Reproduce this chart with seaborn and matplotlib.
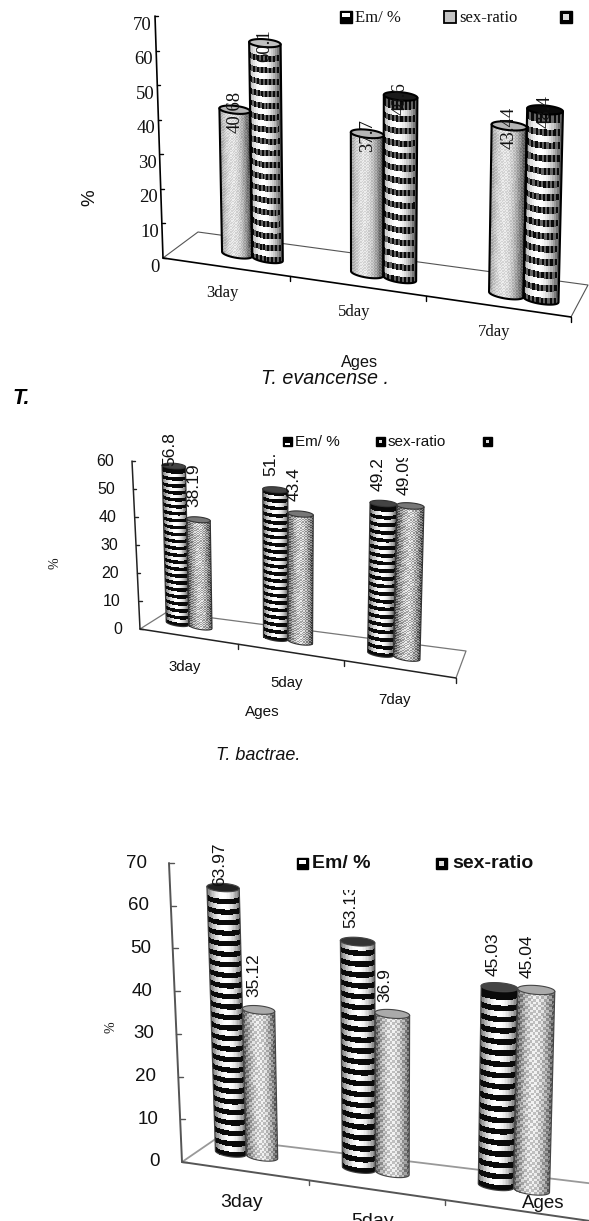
import numpy as np
import pandas as pd
import matplotlib
matplotlib.use('Agg')
import matplotlib.pyplot as plt
import seaborn as sns
from matplotlib.patches import Rectangle
from matplotlib.transforms import Affine2D, Bbox, Transform

W, H = 589, 1221

ages = ['3day', '5day', '7day']
series_names = ['Em/ %', 'sex-ratio']

evancense_em = [40.68, 37.7, 43.44]
evancense_sex = [60.1, 48.6, 48.4]
evancense_labels = ['40.68', '37.7', '43.44', '60.1', '48.6', '48.4']
evancense_ticks = [0, 10, 20, 30, 40, 50, 60, 70]

bactrae_em = [56.8, 51.0, 49.2]
bactrae_sex = [38.19, 43.4, 49.09]
bactrae_labels = ['56.8', '51.', '49.2', '38.19', '43.4', '49.09']
bactrae_ticks = [0, 10, 20, 30, 40, 50, 60]

third_em = [63.97, 53.13, 45.03]
third_sex = [35.12, 36.9, 45.04]
third_labels = ['63.97', '53.13', '45.03', '35.12', '36.9', '45.04']
third_ticks = [0, 10, 20, 30, 40, 50, 60, 70]

sns.set_style('white')
plt.rcParams['font.family'] = ['Liberation Sans', 'DejaVu Sans']

fig = plt.figure(figsize=(W / 100, H / 100), dpi=100, facecolor='white')
# everything on the page is laid out in image pixels
pix = Affine2D().scale(1 / W, -1 / H).translate(0, 1) + fig.transFigure


def spread(x):
    t = (np.asarray(x, float) + 0.5) / 3
    return 0.9 * t + 0.1 * t * t


class Slanted(Transform):
    # (category, value) -> image pixels, fakes the 3d view of the old chart
    input_dims = 2
    output_dims = 2

    def __init__(self, base_l, base_r, scale, lean):
        super().__init__()
        self.base_l, self.base_r = np.array(base_l, float), np.array(base_r, float)
        self.scale, self.lean = scale, lean

    def transform_non_affine(self, xy):
        xy = np.asarray(xy, float)
        s = spread(xy[:, 0])
        v = xy[:, 1]
        px = self.base_l[0] + s * (self.base_r[0] - self.base_l[0]) + v * (self.lean[0] + s * (self.lean[1] - self.lean[0]))
        py = self.base_l[1] + s * (self.base_r[1] - self.base_l[1]) - v * (self.scale[0] + s * (self.scale[1] - self.scale[0]))
        return np.column_stack([px, py])


def cylinder(ax, bar, kind, top, cfg, tf):
    x0, w, v = bar.get_x(), bar.get_width(), bar.get_height()
    e = cfg['ell']
    ncol = cfg['stripe_cols'] if kind == 'stripes' else cfg['dot_cols']
    u = np.linspace(-1, 1, ncol + 1)
    step = cfg['stripe_step'] if kind == 'stripes' else cfg['dot_step']
    rows = np.append(np.arange(0, v - step / 2, step), v)
    X, Y = np.meshgrid(x0 + w * (u + 1) / 2, rows)
    Y = Y - e * np.sqrt(np.clip(1 - u ** 2, 0, 1))
    mid = (u[:-1] + u[1:]) / 2
    light = np.clip(1 - cfg['dark'] * ((mid + cfg['peak']) / 1.1) ** 2, 0, 1)
    ii, jj = np.meshgrid(np.arange(len(rows) - 1), np.arange(ncol), indexing='ij')
    if kind == 'stripes':
        C = np.where(ii % 2 == 0, 0.04 + cfg['ribs'] * (jj % 2), light[jj])
    else:
        C = cfg['dot_base'] * light[jj] + cfg['dot_amp'] * (2 * ((ii + jj) % 2) - 1)
    bar.set_transform(tf)
    bar.set_facecolor('#999999')
    bar.set_edgecolor('none')
    ax.pcolormesh(X, Y, C, cmap='gray', vmin=0, vmax=1, transform=tf, zorder=3)
    th = np.linspace(0, np.pi, 30)
    sx = np.r_[x0, x0 + w / 2 - w / 2 * np.cos(th), x0 + w]
    sy = np.r_[v, -e * np.sin(th), v]
    ax.plot(sx, sy, color=cfg['edge'], lw=cfg['edge_lw'], transform=tf, zorder=4)
    th = np.linspace(0, 2 * np.pi, 60)
    ax.fill(x0 + w / 2 + w / 2 * np.cos(th), v + e * np.sin(th), facecolor=top,
            edgecolor=cfg['edge'], lw=cfg['edge_lw'], transform=tf, zorder=5)


def legend_box(ax, x, y, size, style):
    if style == 'half':
        ax.add_patch(Rectangle((x, y), size, size, fc='black', ec='black', lw=1, transform=pix, zorder=6))
        ax.add_patch(Rectangle((x + 2, y + 2), size - 4, size * 0.35, fc='white', ec='none', transform=pix, zorder=7))
    elif style == 'low':
        ax.add_patch(Rectangle((x, y), size, size, fc='black', ec='black', lw=1, transform=pix, zorder=6))
        ax.add_patch(Rectangle((x + 2, y + size * 0.68), size - 4, 1.5, fc='white', ec='none', transform=pix, zorder=7))
    elif style == 'dots':
        ax.add_patch(Rectangle((x, y), size, size, fc='#c4c4c4', ec='black', lw=1.3, transform=pix, zorder=6))
    else:
        ax.add_patch(Rectangle((x, y), size, size, fc='black', ec='black', lw=1, transform=pix, zorder=6))
        ax.add_patch(Rectangle((x + size * 0.28, y + size * 0.28), size * 0.44, size * 0.44, fc='#dddddd', ec='none', transform=pix, zorder=7))


def draw_panel(cfg, em, sex, labels, ticks):
    ax = fig.add_axes([0, 0, 1, 1])
    ax.patch.set_visible(False)
    df = pd.DataFrame({'pos': [0, 1, 2] * 2, 'value': em + sex,
                       'series': [series_names[0]] * 3 + [series_names[1]] * 3})
    sns.barplot(data=df, x='pos', y='value', hue='series', hue_order=series_names, native_scale=True,
                width=cfg['width'], errorbar=None, legend=False, ax=ax)
    ax.set_axis_off()
    slant = Slanted(cfg['base_l'], cfg['base_r'], cfg['scale'], cfg['lean'])
    tf = slant + pix

    # floor of the box
    fl, fr, bl, br = [np.array(cfg[k], float) for k in ('fl', 'fr', 'bl', 'br')]
    ax.plot([fl[0], bl[0], br[0], fr[0]], [fl[1], bl[1], br[1], fr[1]], color=cfg['back'],
            lw=cfg['back_lw'], transform=pix, zorder=1)
    ax.plot([fl[0], fr[0]], [fl[1], fr[1]], color=cfg['axis'], lw=cfg['axis_lw'], transform=pix, zorder=2)
    for x in [0.5, 1.5, 2.5]:
        p = fl + spread(x) * (fr - fl)
        ax.plot([p[0], p[0]], [p[1], p[1] + 5], color=cfg['axis'], lw=1, transform=pix, zorder=2)
    for i, age in enumerate(ages):
        p = fl + spread(i) * (fr - fl)
        # the bottom panel runs off the page, its 7day never shows
        if p[1] + cfg['cat_off'][1] > H + 5:
            continue
        ax.text(p[0] + cfg['cat_off'][0], p[1] + cfg['cat_off'][1], age, transform=pix, ha='center', va='center',
                fontsize=cfg['cat_fs'], family=cfg['family'], color='#111111')

    # value axis
    top = np.array(cfg['axis_top'], float)
    ax.plot([fl[0], top[0]], [fl[1], top[1]], color=cfg['axis'], lw=cfg['axis_lw'], transform=pix, zorder=2)
    for tick in ticks:
        p = fl + (top - fl) * tick / ticks[-1]
        ax.plot([p[0], p[0] + cfg['tick_len']], [p[1], p[1]], color=cfg['axis'], lw=1, transform=pix, zorder=2)
        ax.text(p[0] + cfg['tick_off'][0], p[1] + cfg['tick_off'][1], str(tick), transform=pix, ha='right', va='center',
                fontsize=cfg['tick_fs'], family=cfg['family'], color='#111111')

    # bars go hue by hue in ax.patches
    for i, bar in enumerate(list(ax.patches)):
        cylinder(ax, bar, cfg['kinds'][i // 3], cfg['tops'][i], cfg, tf)
        q = slant.transform([[bar.get_x() + bar.get_width() / 2, bar.get_height()]])[0]
        dx, dy = cfg['label_off'][i]
        txt = ax.text(q[0] + dx, q[1] + dy, labels[i], transform=pix, rotation=90, ha='center',
                      va=cfg['label_va'], fontsize=cfg['label_fs'], family=cfg['family'],
                      color='#111111', zorder=8)
        if cfg['label_clip'][i]:
            txt.set_clip_on(True)
            txt.set_clip_box(Bbox([[0, 0], [W, H - cfg['label_clip'][i]]]))

    # legend sits on a line by itself, third key has no text in the source
    for (x, y), style in zip(cfg['boxes'], cfg['box_styles']):
        legend_box(ax, x, y, cfg['box'], style)
    for (x, y), name in zip(cfg['names'], series_names):
        ax.text(x, y, name, transform=pix, ha='left', va='center', fontsize=cfg['leg_fs'],
                family=cfg['family'], weight=cfg['leg_weight'], color='#111111', zorder=8)

    ax.text(cfg['pct'][0], cfg['pct'][1], '%', transform=pix, rotation=90, ha='center', va='center',
            fontsize=cfg['pct_fs'], family=cfg['pct_family'], color='#111111')
    ax.text(cfg['ages'][0], cfg['ages'][1], 'Ages', transform=pix, ha='center', va='center',
            fontsize=cfg['ages_fs'], family='Liberation Sans', color='#111111', zorder=8)
    ax.set_xlim(-1, 3)
    ax.set_ylim(-5, 80)


panel_1 = dict(
    base_l=(190, 247), base_r=(597, 308), scale=(3.49, 3.99), lean=(-0.08, 0.11), width=0.48,
    fl=(163, 258), fr=(571, 317), bl=(198, 232), br=(588, 285), axis_top=(155, 16),
    back='#555555', back_lw=0.8, axis='black', axis_lw=1.2, tick_len=3, tick_off=(-3, 9), tick_fs=13.5,
    cat_off=(-3, 26), cat_fs=12, family='Liberation Serif', label_fs=13.5, label_va='center',
    label_off=[(0, 2)] * 6, label_clip=[0] * 6, kinds=['dots', 'stripes'],
    tops=['#b5b5b5', '#b5b5b5', '#b5b5b5', '#c0c0c0', '#1a1a1a', '#0a0a0a'],
    ell=1.1, stripe_step=1.65, stripe_cols=16, dot_step=0.4, dot_cols=24, dark=0.6, peak=0.2, ribs=0.35,
    dot_base=0.88, dot_amp=0.05, edge='black', edge_lw=1.5,
    boxes=[(340, 11), (444, 11), (560, 11)], box=12, box_styles=['half', 'dots', 'core'],
    names=[(355, 18), (459, 18)], leg_fs=12, leg_weight='normal',
    pct=(90, 198), pct_fs=13.5, pct_family='Liberation Sans', ages=(360, 363), ages_fs=11.7)

panel_2 = dict(
    base_l=(142, 618), base_r=(449, 664), scale=(2.72, 3.15), lean=(-0.088, 0.10), width=0.48,
    fl=(140, 629), fr=(456, 678), bl=(167, 612), br=(466, 651), axis_top=(132, 461),
    back='#777777', back_lw=0.9, axis='#222222', axis_lw=1.1, tick_len=3, tick_off=(-18, 1), tick_fs=11.5,
    cat_off=(-4, 31), cat_fs=10.8, family='Liberation Sans', label_fs=12.5, label_va='bottom',
    label_off=[(-4, 0), (-4, -14), (-5, -12), (-5, -13), (-6, -13), (-6, -11)],
    label_clip=[0, 0, 0, 0, 0, 458], kinds=['stripes', 'dots'],
    tops=['#444444', '#444444', '#444444', '#777777', '#777777', '#777777'],
    ell=1.0, stripe_step=1.25, stripe_cols=24, dot_step=0.42, dot_cols=16, dark=0.75, peak=0.0, ribs=0.0,
    dot_base=0.78, dot_amp=0.14, edge='#333333', edge_lw=0.8,
    boxes=[(283, 437), (376, 437), (483, 437)], box=9, box_styles=['low', 'core', 'core'],
    names=[(295, 442), (388, 442)], leg_fs=11, leg_weight='normal',
    pct=(55, 563), pct_fs=10, pct_family='Liberation Serif', ages=(262, 712), ages_fs=11)

panel_3 = dict(
    base_l=(185, 1147), base_r=(586, 1197), scale=(4.1, 4.5), lean=(-0.155, 0.145), width=0.5,
    fl=(182, 1162), fr=(590, 1221), bl=(217, 1138), br=(612, 1186), axis_top=(169, 863),
    back='#999999', back_lw=1.3, axis='#555555', axis_lw=1.4, tick_len=5, tick_off=(-22, 0), tick_fs=13.5,
    cat_off=(-3, 31), cat_fs=14, family='Liberation Sans', label_fs=12.5, label_va='bottom',
    label_off=[(-3, -2), (-7, -14), (-6, -11), (-5, -13), (-7, -12), (-9, -12)],
    label_clip=[0, 890, 0, 0, 0, 0], kinds=['stripes', 'dots'],
    tops=['#222222', '#333333', '#444444', '#aaaaaa', '#aaaaaa', '#aaaaaa'],
    ell=1.0, stripe_step=1.27, stripe_cols=24, dot_step=0.62, dot_cols=14, dark=0.7, peak=0.0, ribs=0.0,
    dot_base=0.85, dot_amp=0.1, edge='#444444', edge_lw=0.8,
    boxes=[(297, 858), (436, 858)], box=11, box_styles=['half', 'core'],
    names=[(312, 864), (452, 864)], leg_fs=14, leg_weight='bold',
    pct=(111, 1027), pct_fs=10, pct_family='Liberation Serif', ages=(543, 1203), ages_fs=13.5)

draw_panel(panel_1, evancense_em, evancense_sex, evancense_labels, evancense_ticks)
draw_panel(panel_2, bactrae_em, bactrae_sex, bactrae_labels, bactrae_ticks)
draw_panel(panel_3, third_em, third_sex, third_labels, third_ticks)

# captions between the panels
fig.text(325 / W, 1 - 379 / H, 'T. evancense .', style='italic', fontsize=14.2, ha='center', va='center',
         family='Liberation Sans', color='#111111')
fig.text(12 / W, 1 - 399 / H, 'T.', style='italic', weight='bold', fontsize=15.5, ha='left', va='center',
         family='Liberation Sans', color='black')
fig.text(258 / W, 1 - 755 / H, 'T. bactrae.', style='italic', fontsize=13, ha='center', va='center',
         family='Liberation Sans', color='#111111')

fig.savefig('out.png', dpi=100, facecolor='white')
